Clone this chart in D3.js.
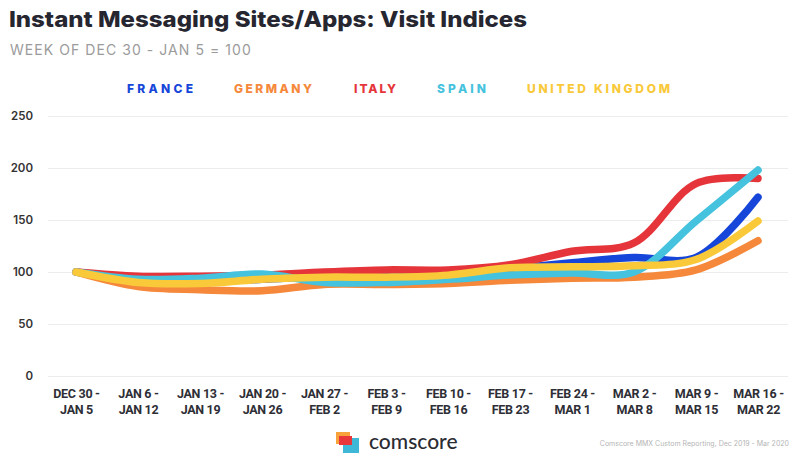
<!DOCTYPE html>
<html><head><meta charset="utf-8">
<script src="https://cdn.jsdelivr.net/npm/d3@7"></script>
<style>
html,body{margin:0;padding:0;background:#fff;}
svg{display:block;font-family:"Inter","Lato",sans-serif;}
</style></head>
<body><svg id="c" width="800" height="465"></svg>
<script>
const categories = [
  ["DEC 30 -","JAN 5"],["JAN 6 -","JAN 12"],["JAN 13 -","JAN 19"],["JAN 20 -","JAN 26"],
  ["JAN 27 -","FEB 2"],["FEB 3 -","FEB 9"],["FEB 10 -","FEB 16"],["FEB 17 -","FEB 23"],
  ["FEB 24 -","MAR 1"],["MAR 2 -","MAR 8"],["MAR 9 -","MAR 15"],["MAR 16 -","MAR 22"]
];
const france  = [100, 92, 91, 93, 96, 96, 98, 103, 109, 114, 114, 172];
const germany = [100, 86, 83, 82, 88, 88, 89, 92, 94, 95, 102, 130];
const italy   = [100, 96, 96, 97, 100, 102, 102, 107, 120, 128, 185, 190];
const spain   = [100, 93, 94, 98, 90, 90, 93, 97, 99, 100, 149, 198];
const uk      = [100, 90, 89, 93, 95, 95, 97, 104, 105, 106, 112, 149];
const seriesNames = ["FRANCE","GERMANY","ITALY","SPAIN","UNITED KINGDOM"];
const seriesColors = ["#1646d9","#f5883a","#e5343a","#45c2dd","#f9c93a"];
const yTicks = [0,50,100,150,200,250];

const series = [france, germany, italy, spain, uk];
const svg = d3.select("#c");

svg.append("text").attr("x",9).attr("y",27)
  .attr("font-size",22).attr("font-weight",800).attr("fill","#262630")
  .attr("textLength",518).attr("lengthAdjust","spacingAndGlyphs")
  .text("Instant Messaging Sites/Apps: Visit Indices");
svg.append("text").attr("x",10).attr("y",55)
  .attr("font-size",14).attr("fill","#9b9b9b").attr("letter-spacing",1.2)
  .attr("textLength",242).attr("lengthAdjust","spacing")
  .text("WEEK OF DEC 30 - JAN 5 = 100");

// legend
const legX = [127,234,354,437,527];
const legW = [66,78,42,49,143];
seriesNames.forEach((n,i)=>{
  svg.append("text").attr("x",legX[i]).attr("y",93)
    .attr("font-size",12).attr("font-weight",800).attr("fill",seriesColors[i])
    .attr("textLength",legW[i]).attr("lengthAdjust","spacing")
    .text(n);
});

const x = d3.scalePoint().domain(d3.range(categories.length)).range([76,758]);
const y = d3.scaleLinear().domain([0,250]).range([376,116]);

// grid
const yAxis = d3.axisLeft(y).tickValues(yTicks).tickSize(-740).tickPadding(15);
const gy = svg.append("g").attr("transform","translate(48,0)").call(yAxis);
gy.select(".domain").remove();
gy.selectAll(".tick line").attr("stroke","#ececec");
gy.selectAll(".tick text").attr("font-size",11.5).attr("font-weight",600).attr("fill","#333")
  .attr("font-family","Inter,sans-serif");

// x labels
const xAxis = d3.axisBottom(x).tickSize(0).tickFormat("");
const gx = svg.append("g").attr("transform","translate(0,384)").call(xAxis);
gx.select(".domain").remove();
gx.selectAll(".tick").each(function(d){
  const t = d3.select(this).append("text").attr("text-anchor","middle")
    .attr("font-size",12.5).attr("font-weight",700).attr("fill","#2e2e36")
    .attr("font-family","Roboto,sans-serif")
    .attr("letter-spacing",-0.3);
  t.append("tspan").attr("x",0).attr("y",14).text(categories[d][0]);
  t.append("tspan").attr("x",0).attr("y",30).text(categories[d][1]);
});

// lines
const line = d3.line().x((d,i)=>x(i)).y(d=>y(d)).curve(d3.curveCatmullRom.alpha(0.5));
series.forEach((s,i)=>{
  svg.append("path").datum(s).attr("d",line).attr("fill","none")
    .attr("stroke",seriesColors[i]).attr("stroke-width",7.5)
    .attr("stroke-linecap","round").attr("stroke-linejoin","round");
});

// footer logo
const lg = svg.append("g");
lg.append("rect").attr("x",336).attr("y",432).attr("width",14).attr("height",12).attr("fill","#f7a23a");
lg.append("rect").attr("x",343).attr("y",438).attr("width",16).attr("height",15).attr("fill","#3fb8d8");
lg.append("rect").attr("x",339).attr("y",436).attr("width",13).attr("height",9).attr("fill","#e8363a");
svg.append("text").attr("x",369).attr("y",449).attr("font-size",21).attr("font-weight",500)
  .attr("fill","#2b2b33").attr("font-family","Lato,Inter,sans-serif").text("comscore");
svg.append("text").attr("x",789).attr("y",446).attr("text-anchor","end")
  .attr("font-size",7).attr("fill","#b5b5b5")
  .text("Comscore MMX Custom Reporting, Dec 2019 - Mar 2020");
</script></body></html>
